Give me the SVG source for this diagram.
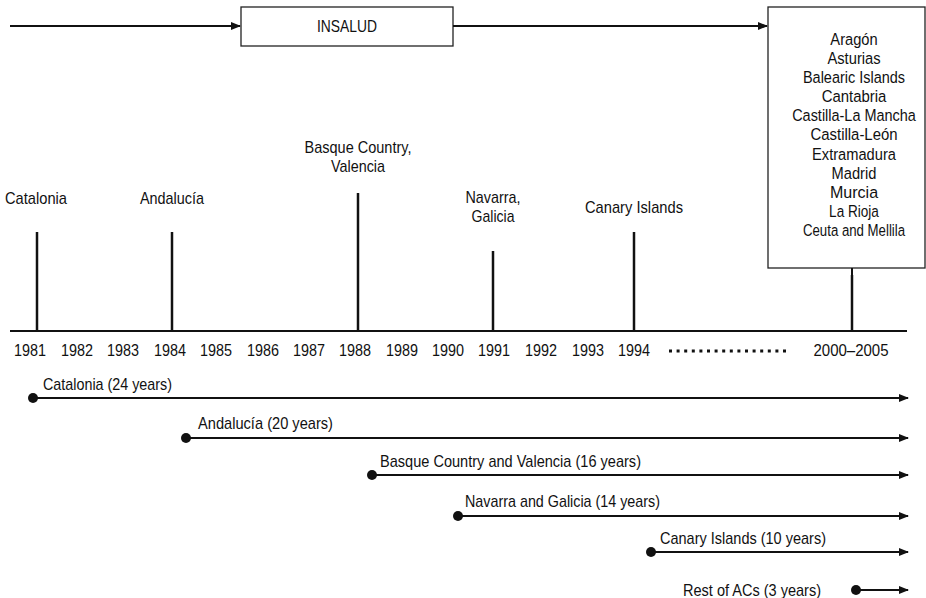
<svg xmlns="http://www.w3.org/2000/svg" width="926" height="598" viewBox="0 0 926 598">
<style>
text{font-family:"Liberation Sans",Arial,sans-serif;font-size:17px;fill:#111;dominant-baseline:central}
.c{text-anchor:middle}
.ln{stroke:#111;stroke-width:2;fill:none}
.tk{stroke:#111;stroke-width:2.5;fill:none}
.bx{fill:#fff;stroke:#222;stroke-width:1.3}
</style>
<defs>
<marker id="ah" markerWidth="10" markerHeight="8" refX="9" refY="4" orient="auto" markerUnits="userSpaceOnUse">
<path d="M0,0 L10,4 L0,8 Z" fill="#111"/>
</marker>
</defs>
<g id="insalud"><rect class="bx" x="241" y="7" width="212" height="39"/><text class="c" x="347" y="26" textLength="60" lengthAdjust="spacingAndGlyphs">INSALUD</text></g>
<g id="rest-box"><rect class="bx" x="768" y="7" width="157" height="261"/>
<g transform="translate(854 0) scale(0.83 1)">
<text class="c" x="0" y="39" textLength="57" lengthAdjust="spacingAndGlyphs">Aragón</text>
<text class="c" x="0" y="58" textLength="64" lengthAdjust="spacingAndGlyphs">Asturias</text>
<text class="c" x="0" y="77" textLength="123" lengthAdjust="spacingAndGlyphs">Balearic Islands</text>
<text class="c" x="0" y="96" textLength="78" lengthAdjust="spacingAndGlyphs">Cantabria</text>
<text class="c" x="0" y="115" textLength="149" lengthAdjust="spacingAndGlyphs">Castilla-La Mancha</text>
<text class="c" x="0" y="134" textLength="105" lengthAdjust="spacingAndGlyphs">Castilla-León</text>
<text class="c" x="0" y="154" textLength="101" lengthAdjust="spacingAndGlyphs">Extramadura</text>
<text class="c" x="0" y="173" textLength="54" lengthAdjust="spacingAndGlyphs">Madrid</text>
<text class="c" x="0" y="192" textLength="58" lengthAdjust="spacingAndGlyphs">Murcia</text>
<text class="c" x="0" y="211" textLength="60" lengthAdjust="spacingAndGlyphs">La Rioja</text>
<text class="c" x="0" y="230" textLength="123" lengthAdjust="spacingAndGlyphs">Ceuta and Mellila</text>
</g>
</g>
<g id="timeline">
<line class="ln" x1="10" y1="331" x2="907" y2="331"/>
<line class="tk" x1="37" y1="232" x2="37" y2="331"/>
<line class="tk" x1="172" y1="232" x2="172" y2="331"/>
<line class="tk" x1="358" y1="193" x2="358" y2="331"/>
<line class="tk" x1="493" y1="251" x2="493" y2="331"/>
<line class="tk" x1="634" y1="232" x2="634" y2="331"/>
<line class="tk" x1="852" y1="275" x2="852" y2="331"/>
<text class="c" x="36" y="198" textLength="62" lengthAdjust="spacingAndGlyphs">Catalonia</text>
<text class="c" x="172" y="198" textLength="64" lengthAdjust="spacingAndGlyphs">Andalucía</text>
<text class="c" x="358" y="147" textLength="107" lengthAdjust="spacingAndGlyphs">Basque Country,</text>
<text class="c" x="358" y="166" textLength="54" lengthAdjust="spacingAndGlyphs">Valencia</text>
<text class="c" x="493" y="197" textLength="55" lengthAdjust="spacingAndGlyphs">Navarra,</text>
<text class="c" x="493" y="216" textLength="43" lengthAdjust="spacingAndGlyphs">Galicia</text>
<text class="c" x="634" y="207" textLength="98" lengthAdjust="spacingAndGlyphs">Canary Islands</text>
<text class="c" x="30" y="350" textLength="32" lengthAdjust="spacingAndGlyphs">1981</text>
<text class="c" x="77" y="350" textLength="32" lengthAdjust="spacingAndGlyphs">1982</text>
<text class="c" x="123" y="350" textLength="32" lengthAdjust="spacingAndGlyphs">1983</text>
<text class="c" x="170" y="350" textLength="32" lengthAdjust="spacingAndGlyphs">1984</text>
<text class="c" x="216" y="350" textLength="32" lengthAdjust="spacingAndGlyphs">1985</text>
<text class="c" x="263" y="350" textLength="32" lengthAdjust="spacingAndGlyphs">1986</text>
<text class="c" x="309" y="350" textLength="32" lengthAdjust="spacingAndGlyphs">1987</text>
<text class="c" x="355" y="350" textLength="32" lengthAdjust="spacingAndGlyphs">1988</text>
<text class="c" x="402" y="350" textLength="32" lengthAdjust="spacingAndGlyphs">1989</text>
<text class="c" x="448" y="350" textLength="32" lengthAdjust="spacingAndGlyphs">1990</text>
<text class="c" x="494" y="350" textLength="32" lengthAdjust="spacingAndGlyphs">1991</text>
<text class="c" x="541" y="350" textLength="32" lengthAdjust="spacingAndGlyphs">1992</text>
<text class="c" x="588" y="350" textLength="32" lengthAdjust="spacingAndGlyphs">1993</text>
<text class="c" x="634" y="350" textLength="32" lengthAdjust="spacingAndGlyphs">1994</text>
<line x1="669" y1="351" x2="790" y2="351" stroke="#111" stroke-width="3" stroke-dasharray="3,4.6"/>
<text class="c" x="851" y="350" textLength="75" lengthAdjust="spacingAndGlyphs">2000–2005</text>
</g>
<g id="connectors">
<line class="ln" x1="10" y1="26" x2="240" y2="26" marker-end="url(#ah)"/>
<line class="ln" x1="453" y1="26" x2="767" y2="26" marker-end="url(#ah)"/>
<line class="ln" x1="852" y1="268" x2="852" y2="275"/>
</g>
<g id="durations">
<line class="ln" x1="33" y1="398" x2="908" y2="398" marker-end="url(#ah)"/><circle cx="33" cy="398" r="5" fill="#111"/>
<text x="43" y="384" textLength="129" lengthAdjust="spacingAndGlyphs">Catalonia (24 years)</text>
<line class="ln" x1="186" y1="438" x2="908" y2="438" marker-end="url(#ah)"/><circle cx="186" cy="438" r="5" fill="#111"/>
<text x="198" y="423" textLength="135" lengthAdjust="spacingAndGlyphs">Andalucía (20 years)</text>
<line class="ln" x1="372" y1="475" x2="908" y2="475" marker-end="url(#ah)"/><circle cx="372" cy="475" r="5" fill="#111"/>
<text x="380" y="461" textLength="261" lengthAdjust="spacingAndGlyphs">Basque Country and Valencia (16 years)</text>
<line class="ln" x1="458" y1="516" x2="908" y2="516" marker-end="url(#ah)"/><circle cx="458" cy="516" r="5" fill="#111"/>
<text x="465" y="501" textLength="195" lengthAdjust="spacingAndGlyphs">Navarra and Galicia (14 years)</text>
<line class="ln" x1="651" y1="552" x2="908" y2="552" marker-end="url(#ah)"/><circle cx="651" cy="552" r="5" fill="#111"/>
<text x="660" y="538" textLength="166" lengthAdjust="spacingAndGlyphs">Canary Islands (10 years)</text>
<line class="ln" x1="856" y1="590" x2="908" y2="590" marker-end="url(#ah)"/><circle cx="856" cy="590" r="5" fill="#111"/>
<text x="683" y="590" textLength="138" lengthAdjust="spacingAndGlyphs">Rest of ACs (3 years)</text>
</g>
</svg>
